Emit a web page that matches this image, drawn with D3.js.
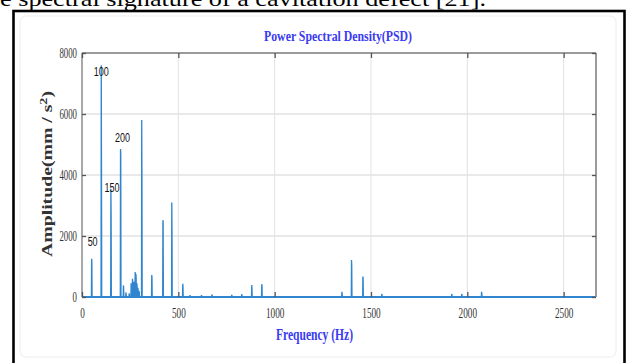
<!DOCTYPE html>
<html>
<head>
<meta charset="utf-8">
<script src="https://cdn.jsdelivr.net/npm/d3@7"></script>
<style>
  html, body { margin: 0; padding: 0; background: #fff; overflow: hidden; }
  svg { display: block; }
</style>
</head>
<body>
<svg id="chart" width="629" height="363"></svg>
<script>
// ---- data ----
const peakFreqs = [50, 100, 150, 200, 215, 228, 245, 255, 262, 270, 276, 280, 285, 290, 296, 310, 362, 420, 466, 523, 560, 620, 674, 777, 829, 881, 933, 1349, 1399, 1458, 1556, 1919, 1971, 2074];
const peakAmps  = [1250, 7600, 3550, 4850, 380, 150, 120, 450, 600, 500, 820, 750, 450, 300, 200, 5800, 720, 2520, 3100, 430, 60, 60, 80, 70, 90, 390, 420, 170, 1210, 670, 100, 100, 100, 170];
const sideAmps  = [1150, 4300, 2700, 4700, 300, 100, 80, 350, 500, 400, 650, 600, 350, 250, 150, 3950, 650, 2450, 2200, 350, 40, 40, 60, 50, 70, 300, 380, 120, 1000, 640, 80, 80, 80, 120];
const peakLabels = [{f: 50, a: 1250, t: "50"}, {f: 100, a: 7600, t: "100"}, {f: 150, a: 3550, t: "150"}, {f: 200, a: 4850, t: "200"}];
const xTicks = [0, 500, 1000, 1500, 2000, 2500];
const yTicks = [0, 2000, 4000, 6000, 8000];
const freqMax = 2668;
const ampMax = 8000;
const titleText = "Power Spectral Density(PSD)";
const xLabelText = "Frequency (Hz)";
const captionText = "e spectral signature of a cavitation defect [21].";

// ---- layout ----
const svg = d3.select("#chart");
const L = 82, R = 596, T = 53, B = 297;
const x = d3.scaleLinear().domain([0, freqMax]).range([L, R]);
const y = d3.scaleLinear().domain([0, ampMax]).range([B, T]);

// caption text cut at top
svg.append("text")
  .attr("x", 0).attr("y", 6)
  .attr("font-family", "Liberation Serif, Times New Roman, serif")
  .attr("font-size", 22)
  .attr("fill", "#000")
  .attr("textLength", 486).attr("lengthAdjust", "spacingAndGlyphs")
  .text(captionText);

// outer frame
svg.append("rect")
  .attr("x", 13.5).attr("y", 11).attr("width", 611).attr("height", 370)
  .attr("fill", "none").attr("stroke", "#000").attr("stroke-width", 2.6);
// faint inner panel
svg.append("rect")
  .attr("x", 20).attr("y", 16).attr("width", 596).attr("height", 341).attr("rx", 6)
  .attr("fill", "#fff").attr("stroke", "#f3f3f3").attr("stroke-width", 1.5);

// grid
const grid = svg.append("g");
xTicks.forEach(v => {
  if (v === 0) return;
  grid.append("line").attr("x1", x(v)).attr("x2", x(v)).attr("y1", T).attr("y2", B)
    .attr("stroke", "#e2e2e2").attr("stroke-width", 1);
});
yTicks.forEach(v => {
  if (v === 0 || v === ampMax) return;
  grid.append("line").attr("x1", L).attr("x2", R).attr("y1", y(v)).attr("y2", y(v))
    .attr("stroke", "#e2e2e2").attr("stroke-width", 1.3);
});

// spectrum line
const pts = [[0, 0]];
peakFreqs.forEach((f, i) => {
  pts.push([f - 1.2, 0], [f, peakAmps[i]], [f + 1.2, sideAmps[i]], [f + 2.4, 0]);
});
pts.push([freqMax, 0]);
const line = d3.line().x(d => x(d[0])).y(d => y(d[1]));
svg.append("path").datum(pts)
  .attr("d", line)
  .attr("fill", "none")
  .attr("stroke", "#2f86cf")
  .attr("stroke-width", 1.3)
  .attr("stroke-linejoin", "miter");
// baseline emphasis
svg.append("line").attr("x1", L).attr("x2", R).attr("y1", y(0)).attr("y2", y(0))
  .attr("stroke", "#2f86cf").attr("stroke-width", 2);

// axes box (top & right & left)
const axisColor = "#7a7a7a";
svg.append("line").attr("x1", L).attr("x2", R).attr("y1", T).attr("y2", T).attr("stroke", axisColor).attr("stroke-width", 1.5);
svg.append("line").attr("x1", R).attr("x2", R).attr("y1", T).attr("y2", B).attr("stroke", axisColor).attr("stroke-width", 1.5);
svg.append("line").attr("x1", L).attr("x2", L).attr("y1", T).attr("y2", B).attr("stroke", axisColor).attr("stroke-width", 1.3);

// bottom axis (inner ticks)
const xAxis = d3.axisBottom(x).tickValues(xTicks).tickSize(-5).tickSizeOuter(0).tickFormat(d3.format("d"));
const gx = svg.append("g").attr("transform", `translate(0,${B})`).call(xAxis);
gx.select(".domain").remove();
gx.selectAll(".tick line").attr("stroke", "#555").attr("stroke-width", 1.3);
gx.selectAll(".tick text")
  .attr("y", 11).attr("dy", "0.71em")
  .attr("font-family", "Liberation Serif, Times New Roman, serif")
  .attr("font-size", 14).attr("fill", "#333")
  .attr("textLength", d => String(d).length * 4.6).attr("lengthAdjust", "spacingAndGlyphs");

// top axis ticks
const gxt = svg.append("g").attr("transform", `translate(0,${T})`)
  .call(d3.axisTop(x).tickValues(xTicks).tickSize(-5).tickFormat(""));
gxt.select(".domain").remove();
gxt.selectAll(".tick line").attr("stroke", "#555").attr("stroke-width", 1.3);

// left axis
const yAxis = d3.axisLeft(y).tickValues(yTicks).tickSize(-4).tickSizeOuter(0).tickFormat(d3.format("d"));
const gy = svg.append("g").attr("transform", `translate(${L},0)`).call(yAxis);
gy.select(".domain").remove();
gy.selectAll(".tick line").attr("stroke", "#555").attr("stroke-width", 1.3);
gy.selectAll(".tick text")
  .attr("x", -5)
  .attr("font-family", "Liberation Serif, Times New Roman, serif")
  .attr("font-size", 14).attr("fill", "#333")
  .attr("textLength", d => String(d).length * 4.4).attr("lengthAdjust", "spacingAndGlyphs");

// right axis ticks
const gyr = svg.append("g").attr("transform", `translate(${R},0)`)
  .call(d3.axisRight(y).tickValues(yTicks).tickSize(-4).tickFormat(""));
gyr.select(".domain").remove();
gyr.selectAll(".tick line").attr("stroke", "#555").attr("stroke-width", 1.3);

// peak labels
const labelOffsets = {"50": [1, -13], "100": [0, 11], "150": [1, 3], "200": [2, -7]};
svg.append("g").selectAll("text").data(peakLabels).join("text")
  .attr("x", d => x(d.f) + labelOffsets[d.t][0])
  .attr("y", d => y(d.a) + labelOffsets[d.t][1])
  .attr("text-anchor", "middle")
  .attr("font-family", "Liberation Sans Narrow, Liberation Sans, Arial, sans-serif")
  .attr("font-size", 12).attr("fill", "#111")
  .attr("textLength", d => d.t.length * 5.0).attr("lengthAdjust", "spacingAndGlyphs")
  .text(d => d.t);

// title
svg.append("text")
  .attr("x", 338).attr("y", 41)
  .attr("text-anchor", "middle")
  .attr("font-family", "Liberation Serif, Times New Roman, serif")
  .attr("font-size", 15).attr("font-weight", "bold").attr("fill", "#3a3af2")
  .attr("textLength", 148).attr("lengthAdjust", "spacingAndGlyphs")
  .text(titleText);

// x label
svg.append("text")
  .attr("x", 314.5).attr("y", 340)
  .attr("text-anchor", "middle")
  .attr("font-family", "Liberation Serif, Times New Roman, serif")
  .attr("font-size", 17).attr("font-weight", "bold").attr("fill", "#3a3af2")
  .attr("textLength", 77).attr("lengthAdjust", "spacingAndGlyphs")
  .text(xLabelText);

// y label
const yl = svg.append("text")
  .attr("transform", "translate(52,174) rotate(-90)")
  .attr("text-anchor", "middle")
  .attr("font-family", "Liberation Serif, Times New Roman, serif")
  .attr("font-size", 14).attr("font-weight", "bold").attr("fill", "#333")
  .attr("textLength", 166).attr("lengthAdjust", "spacingAndGlyphs");
yl.append("tspan").text("Amplitude(mm / s");
yl.append("tspan").attr("dy", -5).attr("font-size", 10).text("2");
yl.append("tspan").attr("dy", 5).text(")");
</script>
</body>
</html>
